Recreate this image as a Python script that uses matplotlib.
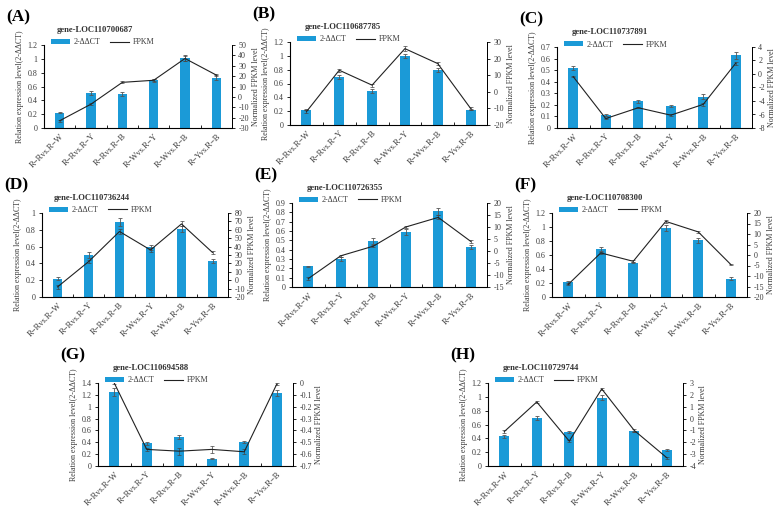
import matplotlib
matplotlib.use("Agg")
import matplotlib.pyplot as plt
import numpy as np

plt.rcParams["font.family"] = ["Liberation Serif", "DejaVu Serif"]

# ─────────────────────────────────────────────
#  DATOS
# ─────────────────────────────────────────────
categorias = ["R−Rvs.R−W", "R−Rvs.R−Y", "R−Rvs.R−B",
              "R−Wvs.R−Y", "R−Wvs.R−B", "R−Yvs.R−B"]

genes = ["gene-LOC110700687", "gene-LOC110687785", "gene-LOC110737891",
         "gene-LOC110736244", "gene-LOC110726355", "gene-LOC110708300",
         "gene-LOC110694588", "gene-LOC110729744"]
letras = ["(A)", "(B)", "(C)", "(D)", "(E)", "(F)", "(G)", "(H)"]

qpcr_A = [0.22, 0.50, 0.49, 0.69, 1.01, 0.73]
qpcr_B = [0.22, 0.70, 0.49, 1.00, 0.80, 0.22]
qpcr_C = [0.52, 0.11, 0.23, 0.19, 0.27, 0.63]
qpcr_D = [0.22, 0.50, 0.89, 0.59, 0.81, 0.43]
qpcr_E = [0.22, 0.30, 0.49, 0.59, 0.81, 0.43]
qpcr_F = [0.21, 0.69, 0.49, 0.99, 0.81, 0.26]
qpcr_G = [1.25, 0.38, 0.49, 0.12, 0.40, 1.23]
qpcr_H = [0.43, 0.70, 0.49, 0.99, 0.50, 0.23]

err_A = [0.01, 0.03, 0.03, 0.02, 0.04, 0.03]
err_B = [0.01, 0.03, 0.03, 0.03, 0.03, 0.01]
err_C = [0.02, 0.01, 0.01, 0.01, 0.02, 0.03]
err_D = [0.02, 0.03, 0.05, 0.03, 0.04, 0.02]
err_E = [0.01, 0.02, 0.03, 0.03, 0.04, 0.02]
err_F = [0.02, 0.03, 0.01, 0.04, 0.04, 0.02]
err_G = [0.07, 0.02, 0.03, 0.01, 0.02, 0.05]
err_H = [0.02, 0.03, 0.02, 0.03, 0.01, 0.02]

fpkm_A = [-23, -7, 14, 16, 37, 21]
fpkm_B = [-12, 13, 4, 26, 17, -10]
fpkm_C = [-0.4, -6.6, -5.0, -6.1, -4.5, 1.6]
fpkm_D = [-8, 22, 58, 36, 67, 33]
fpkm_E = [-11.5, -2, 2, 10, 14, 4]
fpkm_F = [-14, 1, -3, 16, 11, -4.5]
fpkm_G = [0.0, -0.56, -0.575, -0.56, -0.58, -0.01]
fpkm_H = [-1.1, 1.4, -1.9, 2.5, -1.0, -3.3]

ferr_A = [1, 1, 1, 1, 2, 1]
ferr_B = [1, 1, 1, 1.5, 1, 1]
ferr_C = [0.1, 0.1, 0.1, 0.1, 0.2, 0.2]
ferr_D = [2, 2, 3, 2, 3, 2]
ferr_E = [0.5, 0.5, 0.5, 0.5, 0.8, 0.5]
ferr_F = [0.5, 0.5, 0.5, 0.8, 0.5, 0.3]
ferr_G = [0.01, 0.01, 0.03, 0.03, 0.02, 0.01]
ferr_H = [0.1, 0.1, 0.1, 0.1, 0.1, 0.1]

# límites de ejes (izquierdo y derecho)
lim_izq = [(0, 1.2, 0.2), (0, 1.2, 0.2), (0, 0.7, 0.1), (0, 1.0, 0.2),
           (0, 0.9, 0.1), (0, 1.2, 0.2), (0, 1.4, 0.2), (0, 1.2, 0.2)]
lim_der = [(-30, 50, 10), (-20, 30, 10), (-8, 4, 2), (-20, 80, 10),
           (-15, 20, 5), (-20, 20, 5), (-0.7, 0, 0.1), (-4, 3, 1)]

# ─────────────────────────────────────────────
#  ESTILO
# ─────────────────────────────────────────────
AZUL = "#1b9ad7"
GRIS = "#3a3a3a"
W, H = 781, 513

# rectángulos de los ejes en píxeles: x0, y0(arriba), x1, y1(abajo)
cajas = [(44, 45, 232, 128), (290, 42, 487, 125), (557, 47, 752, 128),
         (42, 213, 228, 297), (292, 203, 487, 287), (552, 213, 747, 297),
         (98, 383, 293, 466), (488, 383, 683, 466)]


def fmt(v):
    s = f"{v:.1f}".rstrip("0").rstrip(".")
    return "0" if s in ("0", "-0") else s


def panel(fig, caja, letra, gen, barras, err, fpkm, ferr, li, ld):
    x0, y0, x1, y1 = caja
    ax = fig.add_axes([x0 / W, 1 - y1 / H, (x1 - x0) / W, (y1 - y0) / H])
    x = np.arange(len(categorias))
    ax.bar(x, barras, width=0.3, color=AZUL, label="2-ΔΔCT", zorder=2)
    ax.errorbar(x, barras, yerr=err, fmt="none", ecolor="#555555",
                elinewidth=0.6, capsize=1.5, capthick=0.6, zorder=3)
    ax.set_xlim(-0.5, len(categorias) - 0.5)
    ax.set_ylim(li[0], li[1])
    ticks_i = np.arange(li[0], li[1] + li[2] / 2, li[2])
    ax.set_yticks(ticks_i)
    ax.set_yticklabels([fmt(t) for t in ticks_i])
    ax.set_xticks(x)
    ax.set_xticklabels(categorias, rotation=45, ha="right",
                       rotation_mode="anchor", fontsize=6, color=GRIS)
    ax.set_xticks(np.arange(0.5, len(categorias) - 0.5), minor=True)
    ax.tick_params(axis="x", which="major", length=0, pad=3)
    ax.tick_params(axis="x", which="minor", direction="in", length=2, width=0.6)
    ax.tick_params(axis="y", direction="out", length=2.5, width=0.6,
                   labelsize=5.8, pad=2, labelcolor=GRIS)
    ax.spines["top"].set_visible(False)
    for s in ["left", "bottom", "right"]:
        ax.spines[s].set_linewidth(0.7)
    ax.set_ylabel("Relation expression level(2-ΔΔCT)", fontsize=5.8,
                  labelpad=3, color=GRIS)

    ax2 = ax.twinx()
    ax2.plot(x, fpkm, color="#222222", linewidth=0.8, label="FPKM", zorder=4)
    ax2.errorbar(x, fpkm, yerr=ferr, fmt="none", ecolor="#444444",
                 elinewidth=0.5, capsize=1.5, capthick=0.5)
    ax2.set_ylim(ld[0], ld[1])
    ticks_d = np.arange(ld[0], ld[1] + ld[2] / 2, ld[2])
    ax2.set_yticks(ticks_d)
    ax2.set_yticklabels([fmt(t) for t in ticks_d])
    ax2.tick_params(axis="y", direction="out", length=2.5, width=0.6,
                    labelsize=5.8, pad=2, labelcolor=GRIS)
    ax2.spines["top"].set_visible(False)
    ax2.spines["right"].set_linewidth(0.7)
    ax2.set_ylabel("Normalized FPKM level", fontsize=5.8, labelpad=2,
                   color=GRIS)

    h1, l1 = ax.get_legend_handles_labels()
    h2, l2 = ax2.get_legend_handles_labels()
    leg = ax.legend(h1 + h2, l1 + l2, loc="upper left",
                    bbox_to_anchor=(0.02, 1.12), ncol=2, frameon=False,
                    fontsize=5.8, handlelength=2.4, handleheight=0.6,
                    columnspacing=1.2, handletextpad=0.4, borderaxespad=0)
    for t in leg.get_texts():
        t.set_color(GRIS)
    ax.text(0.27, 1.13, gen, transform=ax.transAxes, ha="center", va="bottom",
            fontsize=6.2, fontweight="bold", color="#333333")
    fig.text((x0 - 38) / W, 1 - (y0 - 28) / H, letra, fontsize=12.5,
             fontweight="bold", va="center", ha="left")


fig = plt.figure(figsize=(W / 100, H / 100), dpi=100, facecolor="white")

barras_todas = [qpcr_A, qpcr_B, qpcr_C, qpcr_D, qpcr_E, qpcr_F, qpcr_G, qpcr_H]
err_todas = [err_A, err_B, err_C, err_D, err_E, err_F, err_G, err_H]
fpkm_todas = [fpkm_A, fpkm_B, fpkm_C, fpkm_D, fpkm_E, fpkm_F, fpkm_G, fpkm_H]
ferr_todas = [ferr_A, ferr_B, ferr_C, ferr_D, ferr_E, ferr_F, ferr_G, ferr_H]

for i in range(8):
    panel(fig, cajas[i], letras[i], genes[i], barras_todas[i], err_todas[i],
          fpkm_todas[i], ferr_todas[i], lim_izq[i], lim_der[i])

fig.savefig("out.png", dpi=100, facecolor="white")
